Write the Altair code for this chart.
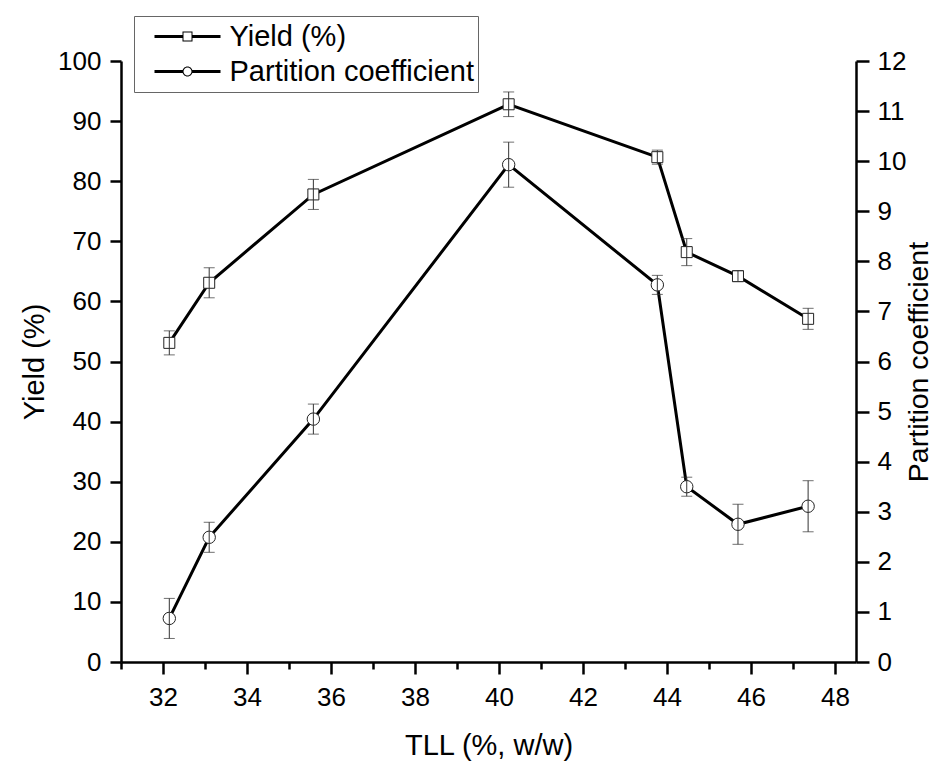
import altair as alt
import pandas as pd

# ---- data ----
tll = [32.15, 33.10, 35.58, 40.23, 43.77, 44.47, 45.69, 47.36]
yield_pct = [53.1, 63.1, 77.8, 92.8, 84.0, 68.2, 64.2, 57.1]
yield_err = [2.0, 2.5, 2.5, 2.05, 1.17, 2.25, 0.9, 1.75]
part_coef = [0.87, 2.49, 4.85, 9.93, 7.53, 3.50, 2.75, 3.11]
part_err = [0.40, 0.30, 0.30, 0.45, 0.19, 0.19, 0.40, 0.51]
series = ["Yield (%)", "Partition coefficient"]
x_ticks = list(range(31, 49))
left_ticks = list(range(0, 101, 10))
right_ticks = list(range(0, 13))

FONT = "Liberation Sans"

df = pd.DataFrame({
    "tll": tll,
    "y": yield_pct,
    "ylo": [v - e for v, e in zip(yield_pct, yield_err)],
    "yhi": [v + e for v, e in zip(yield_pct, yield_err)],
    "pc": part_coef,
    "pclo": [v - e for v, e in zip(part_coef, part_err)],
    "pchi": [v + e for v, e in zip(part_coef, part_err)],
})
legend_df = pd.DataFrame({"series": series, "tll": [40, 40], "y": [50, 50]})

common_axis = dict(
    grid=False, domainColor="black", domainWidth=2.5, tickColor="black", tickWidth=2.5,
    labelColor="black", labelFont=FONT, labelFontSize=26, titleColor="black",
    titleFont=FONT, titleFontSize=29, titleFontWeight="normal",
)

x_axis = alt.Axis(
    values=x_ticks, title="TLL (%, w/w)",
    labelExpr="datum.value % 2 == 0 ? datum.label : ''",
    tickSize={"condition": {"test": "datum.value % 2 == 0", "value": 12}, "value": 7},
    labelPadding=10, titlePadding=21, labelFlush=False, labelOverlap=False,
    **common_axis,
)
x_scale = alt.Scale(domain=[31, 48.5], nice=False, zero=False)

left_axis = alt.Axis(
    orient="left", values=left_ticks, title="Yield (%)", tickSize=11, labelPadding=9,
    titlePadding=8, **common_axis,
)
left_scale = alt.Scale(domain=[0, 100], nice=False)

right_common = dict(common_axis)
right_common["titleFontSize"] = 28.5
right_axis = alt.Axis(
    orient="right", values=right_ticks, title="Partition coefficient", tickSize=13,
    labelPadding=8, titlePadding=-1, titleAngle=270, titleBaseline="top", **right_common,
)
right_scale = alt.Scale(domain=[0, 12], nice=False)

X = alt.X("tll:Q", scale=x_scale, axis=x_axis)

base = alt.Chart(df)

# legend symbol paths: line — marker — line (filled shapes, marker as a ring)
sq_path = ("M-1,-0.0455H-0.15V0.0455H-1Z M0.15,-0.0455H1V0.0455H0.15Z "
           "M-0.1515,-0.1515H0.1515V0.1515H-0.1515Z M-0.1212,-0.1212V0.1212H0.1212V-0.1212Z")
ci_path = ("M-1,-0.0455H-0.14V0.0455H-1Z M0.14,-0.0455H1V0.0455H0.14Z "
           "M0.1515,0A0.1515,0.1515,0,1,1,-0.1515,0A0.1515,0.1515,0,1,1,0.1515,0Z "
           "M0.1212,0A0.1212,0.1212,0,1,0,-0.1212,0A0.1212,0.1212,0,1,0,0.1212,0Z")

# ----- left (yield) -----
Yl = lambda f: alt.Y(f, scale=left_scale, axis=left_axis)
y_line = base.mark_line(color="black", strokeWidth=3).encode(x=X, y=Yl("y:Q"))
y_pts = base.mark_point(shape="square", size=121, filled=True, fill="white",
                        stroke="#222", strokeWidth=1, opacity=1).encode(x=X, y=Yl("y:Q"))
y_bar = base.mark_rule(color="#333", strokeWidth=1).encode(x=X, y=Yl("ylo:Q"), y2="yhi:Q")
y_caps = base.transform_fold(["ylo", "yhi"], as_=["k", "v"]).mark_tick(
    orient="horizontal", size=11, thickness=1, color="#333").encode(x=X, y=Yl("v:Q"))

dummy = alt.Chart(legend_df).mark_point(filled=True, fill="black", strokeWidth=0,
                                        opacity=0, size=10).encode(
    x=X, y=Yl("y:Q"),
    shape=alt.Shape("series:N", scale=alt.Scale(domain=series, range=[sq_path, ci_path]),
                    legend=alt.Legend(
                        orient="none", legendX=13, legendY=-45, title=None,
                        padding=4, clipHeight=33, rowPadding=2,
                        symbolSize=4356, symbolOffset=16.5, labelOffset=9,
                        symbolStrokeWidth=0, symbolFillColor="black", symbolOpacity=1,
                        labelFont=FONT, labelFontSize=29, labelColor="black",
                        labelLimit=500, strokeColor="#666", fillColor="white",
                    )),
)

left = alt.layer(y_line, y_pts, y_bar, y_caps, dummy)

# ----- right (partition coefficient) -----
Yr = lambda f: alt.Y(f, scale=right_scale, axis=right_axis)
p_line = base.mark_line(color="black", strokeWidth=3).encode(x=X, y=Yr("pc:Q"))
p_pts = base.mark_point(shape="circle", size=154, filled=True, fill="white",
                        stroke="#222", strokeWidth=1, opacity=1).encode(x=X, y=Yr("pc:Q"))
p_bar = base.mark_rule(color="#333", strokeWidth=1).encode(x=X, y=Yr("pclo:Q"), y2="pchi:Q")
p_caps = base.transform_fold(["pclo", "pchi"], as_=["k", "v"]).mark_tick(
    orient="horizontal", size=11, thickness=1, color="#333").encode(x=X, y=Yr("v:Q"))

right = alt.layer(p_line, p_pts, p_bar, p_caps)

chart = alt.layer(left, right).resolve_scale(y="independent").properties(
    width=735, height=601,
    padding={"left": 113, "top": 53, "right": 78, "bottom": 103},
    autosize=alt.AutoSizeParams(type="none"),
    background="white",
).configure_view(stroke=None)

chart.save("out.html", embed_options={"renderer": "svg", "actions": False})
